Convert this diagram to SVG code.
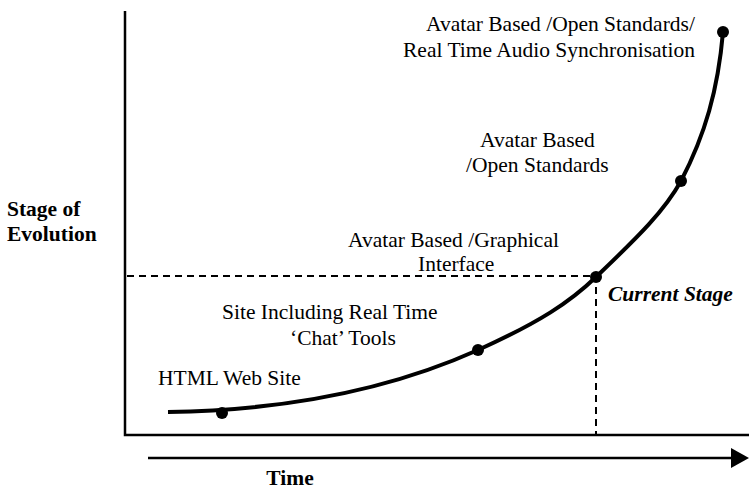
<svg xmlns="http://www.w3.org/2000/svg" width="749" height="491" viewBox="0 0 749 491">
<style>
text{font-family:"Liberation Serif","Times New Roman",serif;font-size:21.5px;fill:#000}
.b{font-weight:bold}
.bi{font-weight:bold;font-style:italic}
.ax{stroke:#000;stroke-width:2.5;fill:none}
.dash{stroke:#000;stroke-width:2;stroke-dasharray:7,5;fill:none}
.dot{fill:#000}
</style>
<g id="connectors">
<path class="ax" d="M125,11 V435 H749"/>
<path class="dash" d="M127,276 H596 V435"/>
<path stroke="#000" stroke-width="2.5" fill="none" d="M148,458 H735"/>
<path d="M731,448 L749,458 L731,468 Z" fill="#000"/>
<path stroke="#000" stroke-width="4" fill="none" d="M168,412 C300,410 400,385 478,350 C540,322 570,302 596,277 C640,235 665,210 681,181 C705,135 718,90 723,32"/>
</g>
<g id="p1"><circle class="dot" cx="222" cy="413" r="6"/><text x="158" y="385">HTML Web Site</text></g>
<g id="p2"><circle class="dot" cx="478" cy="350" r="6"/><text x="222" y="319">Site Including Real Time</text><text x="290" y="345">‘Chat’ Tools</text></g>
<g id="p3"><circle class="dot" cx="596" cy="277" r="6"/><text x="348" y="247">Avatar Based /Graphical</text><text x="418" y="271">Interface</text><text class="bi" x="608" y="301">Current Stage</text></g>
<g id="p4"><circle class="dot" cx="681" cy="181" r="6"/><text x="480" y="147">Avatar Based</text><text x="466" y="172">/Open Standards</text></g>
<g id="p5"><circle class="dot" cx="723" cy="32" r="6"/><text x="426" y="31">Avatar Based /Open Standards/</text><text x="403" y="57">Real Time Audio Synchronisation</text></g>
<g id="yaxis"><text class="b" x="7" y="216">Stage of</text><text class="b" x="7" y="241">Evolution</text></g>
<g id="xaxis"><text class="b" x="290" y="485" text-anchor="middle">Time</text></g>
</svg>
